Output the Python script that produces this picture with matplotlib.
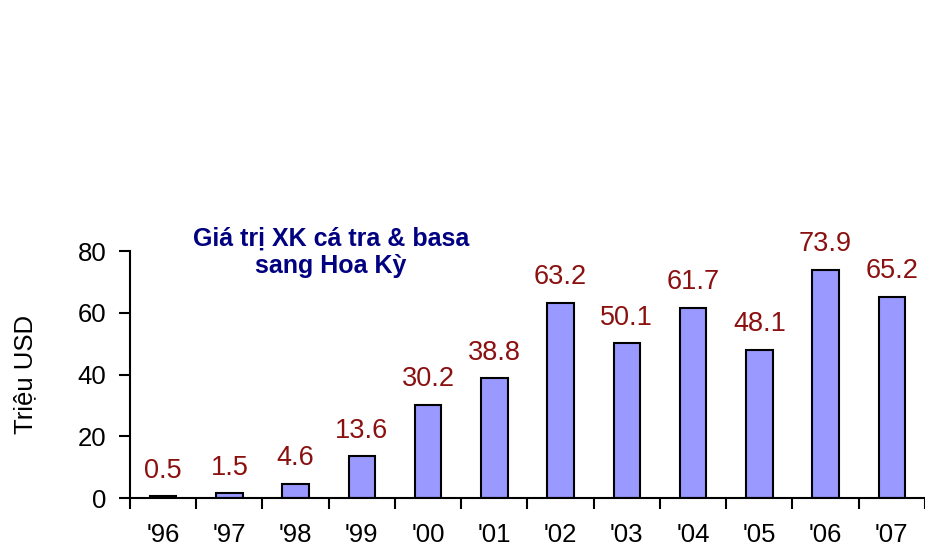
import numpy as np
import matplotlib.pyplot as plt
from matplotlib.ticker import MultipleLocator

plt.rcParams['font.family'] = ['Liberation Sans', 'DejaVu Sans']

# Data
years = ["'96", "'97", "'98", "'99", "'00", "'01", "'02", "'03", "'04", "'05", "'06", "'07"]
values = [0.5, 1.5, 4.6, 13.6, 30.2, 38.8, 63.2, 50.1, 61.7, 48.1, 73.9, 65.2]

fig = plt.figure(figsize=(9.25, 5.5), dpi=100)
ax = fig.add_axes([0.1405, 0.0945, 0.8595, 0.4491])

x = np.arange(len(years))
ax.bar(x, values, width=0.4, color='#9999FF', edgecolor='black', linewidth=1.5, zorder=2)

# value labels
for xi, v in zip(x, values):
    ax.annotate(f'{v:.1f}', (xi, v), xytext=(0, 9), textcoords='offset points',
                ha='center', va='bottom', fontsize=19.5, color='#8B1010', clip_on=False)

ax.set_xlim(-0.5, len(years) - 0.5)
ax.set_ylim(0, 80)
ax.yaxis.set_major_locator(MultipleLocator(20))

ax.set_xticks(x)
ax.set_xticklabels(years)
ax.set_xticks(np.arange(-0.5, len(years), 1.0), minor=True)
ax.tick_params(axis='x', which='major', length=0, pad=18, labelsize=18.5)
ax.tick_params(axis='x', which='minor', length=8, width=1.5, direction='out')
ax.tick_params(axis='y', length=8, width=1.5, pad=9, labelsize=18.5)

for s in ['top', 'right']:
    ax.spines[s].set_visible(False)
for s in ['left', 'bottom']:
    ax.spines[s].set_linewidth(1.5)

ax.set_ylabel('Triệu USD', fontsize=18.5, labelpad=29)

ax.text(0.253, 0.994, 'Giá trị XK cá tra & basa\nsang Hoa Kỳ', transform=ax.transAxes,
        ha='center', va='center', fontsize=18, fontweight='bold', color='#000080',
        linespacing=1.2)

plt.savefig('out.png', dpi=100)
